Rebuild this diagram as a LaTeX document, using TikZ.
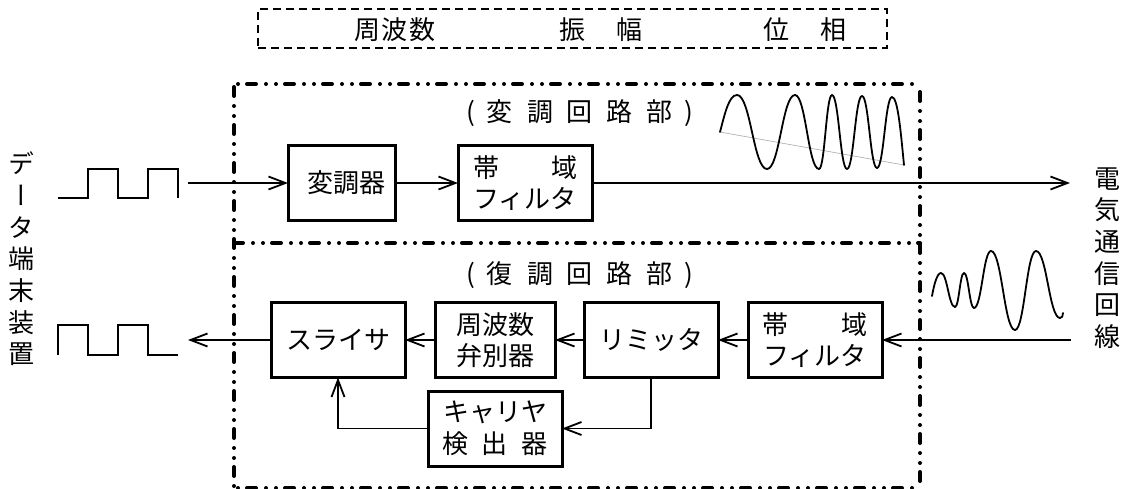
\documentclass[tikz,border=0pt]{standalone}
\usepackage{fontspec}
\setmainfont{Noto Sans CJK JP}
\newfontfamily\vertfont[RawFeature=+vert]{Noto Sans CJK JP}
\usetikzlibrary{arrows.meta}

\tikzset{
  block/.style={draw, line width=3pt, outer sep=0pt, inner sep=0pt, align=center,
                minimum height=75pt, font=\fontsize{26pt}{31pt}\selectfont},
  label/.style={inner sep=0pt, font=\fontsize{26pt}{30pt}\selectfont},
  sideline/.style={inner sep=0pt, align=center, font=\vertfont\fontsize{26pt}{31.7pt}\selectfont},
  link/.style={line width=1.8pt, -{Straight Barb[length=17pt,width=13pt,line width=1.8pt]}},
  plain/.style={line width=1.8pt},
  frame/.style={line width=4pt, line cap=round, dash pattern=on 9pt off 10pt on 0pt off 10pt on 0pt off 9pt},
  topframe/.style={draw, line width=2.2pt, dash pattern=on 8pt off 5pt, outer sep=0pt, inner sep=0pt},
  wave/.style={line width=1.8pt, line cap=round}
}

\begin{document}
\begin{tikzpicture}[x=1pt,y=-1pt]
\useasboundingbox (0,0) rectangle (1128,488);

% top box
\draw (572.5,28.5) node[topframe, minimum width=629pt, minimum height=39pt] (top) {};
\draw (395,30) node[label] (freq) {周\hspace{2pt}波\hspace{2pt}数};
\draw (601,30) node[label] (ampl) {振\hspace{32pt}幅};
\draw (805,30) node[label] (phase) {位\hspace{32pt}相};

% unit frames
\coordinate (nw) at (234,84);
\coordinate (ne) at (920,84);
\coordinate (w) at (234,243);
\coordinate (e) at (920,243);
\coordinate (sw) at (234,488);
\coordinate (se) at (920,488);
\draw[frame, dash phase=25pt] (nw) -- (ne);
\draw[frame, dash phase=30pt] (ne) -- (se);
\draw[frame, dash phase=35pt] (nw) -- (sw);
\draw[frame, dash phase=25pt] (sw) -- (se);
\draw[frame] (w) -- (e);

\draw (580,113) node[label] (modtitle) {(\hspace{12pt}変\hspace{14pt}調\hspace{14pt}回\hspace{14pt}路\hspace{14pt}部\hspace{12pt})};
\draw (580,275) node[label] (demtitle) {(\hspace{12pt}復\hspace{14pt}調\hspace{14pt}回\hspace{14pt}路\hspace{14pt}部\hspace{12pt})};

% blocks
\draw (341.5,183) node[block, minimum width=107pt] (mod) {\hspace*{10pt}変調器};
\draw (525,183) node[block, minimum width=134pt] (txfilter) {帯\hspace{52pt}域\\フィルタ};
\draw (338,340) node[block, minimum width=134pt] (slicer) {スライサ};
\draw (495,340) node[block, minimum width=120pt] (disc) {周波数\\弁別器};
\draw (651,340) node[block, minimum width=134pt] (limiter) {リミッタ};
\draw (815,340) node[block, minimum width=134pt] (rxfilter) {帯\hspace{53pt}域\\フィルタ};
\draw (495,428.5) node[block, minimum width=134pt, font=\fontsize{26pt}{32pt}\selectfont] (carrier) {キャリヤ\\検\hspace{13.5pt}出\hspace{13.5pt}器};

% side labels
\draw (22,259) node[sideline] (terminal) {デ\\ー\\タ\\端\\末\\装\\置};
\draw (1107,258) node[sideline] (circuit) {電\\気\\通\\信\\回\\線};

% connectors
\coordinate (datain) at (188,183);
\coordinate (lineout) at (1070,183);
\coordinate (linein) at (1071,340);
\coordinate (dataout) at (188,340);
\draw[link] (datain) -- (mod);
\draw[link] (mod) -- (txfilter);
\draw[link] (txfilter) -- (lineout);
\draw[link] (linein) -- (rxfilter);
\draw[link] (rxfilter) -- (limiter);
\draw[link] (limiter) -- (disc);
\draw[link] (disc) -- (slicer);
\draw[link] (slicer) -- (dataout);
\draw[link] (limiter.south) |- (carrier.east);
\draw[link] (carrier.west) -| (slicer.south);

% square waves
\draw[plain] (58,198) -- (88,198) -- (88,169) -- (118,169) -- (118,198) -- (148,198)
  -- (148,169) -- (178,169) -- (178,198);
\draw[plain] (58,355) -- (58,325) -- (88,325) -- (88,355) -- (118,355) -- (118,325)
  -- (148,325) -- (148,355) -- (178,355);

% modulated waves
\draw[gray!60, line width=0.7pt] (720,132) -- (904,165);
\draw[wave] (720,132) .. controls (725,113) and (729,95) .. (737,95);
\foreach \x/\y [remember=\x as \lastx (initially 737), remember=\y as \lasty (initially 95)]
  in {767/169, 795/95, 819/169, 832/95, 847/169, 862/96, 877/168, 892/97} {
  \draw[wave] (\lastx,\lasty) .. controls ({\lastx+0.45*(\x-\lastx)},\lasty)
    and ({\x-0.45*(\x-\lastx)},\y) .. (\x,\y);
}
\draw[wave] (892,97) .. controls (898,97) and (901,135) .. (904,165);

\draw[wave] (932,296) .. controls (934,285) and (937,273) .. (941,273);
\foreach \x/\y [remember=\x as \lastx (initially 941), remember=\y as \lasty (initially 273)]
  in {955/307, 964/273, 974/308, 991/251, 1015/330, 1036/251, 1060/318} {
  \draw[wave] (\lastx,\lasty) .. controls ({\lastx+0.45*(\x-\lastx)},\lasty)
    and ({\x-0.45*(\x-\lastx)},\y) .. (\x,\y);
}
\draw[wave] (1060,318) .. controls (1062,318) and (1063,316) .. (1063,313);
\end{tikzpicture}
\end{document}
